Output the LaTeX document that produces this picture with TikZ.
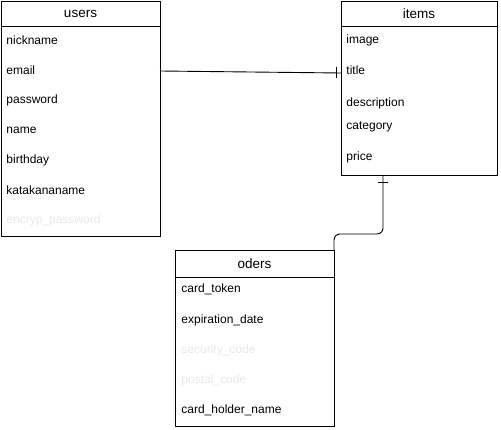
\documentclass[tikz,border=0pt]{standalone}
\usepackage{fontspec}
\setmainfont{Liberation Sans}
\usetikzlibrary{positioning}

\begin{document}
\begin{tikzpicture}[x=1pt,y=-1pt,line width=0.9pt,
		tbl/.style={draw,anchor=north west,inner sep=0pt},
		head/.style={font=\fontsize{13.5}{15}\selectfont},
		field/.style={anchor=west,inner sep=0pt,font=\fontsize{12}{14}\selectfont},
		faint/.style={field,text=black!9}]
		\useasboundingbox (0,0) rectangle (501,430);
		\node[tbl,minimum width=159pt,minimum height=235pt] (users) at (1,1) {};
		\node[tbl,minimum width=156pt,minimum height=174pt] (items) at (341,1) {};
		\node[tbl,minimum width=159pt,minimum height=176pt] (oders) at (175,250) {};
		\draw (1,26) -- (160,26);
		\draw (341,26) -- (497,26);
		\draw (175,277) -- (334,277);
		\node[head] (users-h) at (80.5,14) {users};
		\node[head] (items-h) at (419,14) {items};
		\node[head] (oders-h) at (254.5,264) {oders};
		\node[field] (nickname) at (6,40) {nickname};
		\node[field] (email) at (6,70) {email};
		\node[field] (password) at (6,100) {password};
		\node[field] (name) at (6,130) {name};
		\node[field] (birthday) at (6,160) {birthday};
		\node[field] (katakananame) at (6,190) {katakananame};
		\node[faint] (encryp) at (6,220) {encryp\_password};
		\node[field] (image) at (346,40) {image};
		\node[field] (title) at (346,70) {title};
		\node[field] (description) at (346,103) {description};
		\node[field] (category) at (346,127) {category};
		\node[field] (price) at (346,157) {price};
		\node[field] (token) at (181,289) {card\_token};
		\node[field] (expiration) at (181,320) {expiration\_date};
		\node[faint] (security) at (181,350) {security\_code};
		\node[faint] (postal) at (181,380) {postal\_code};
		\node[field] (holder) at (181,410) {card\_holder\_name};
		\coordinate (users-out) at (160,71);
		\coordinate (items-in) at (341,73);
		\coordinate (items-out) at (383,175);
		\coordinate (oders-in) at (334,250);
		\draw (users-out) -- (items-in);
		\draw (336,67) -- (336,78);
		\draw[rounded corners=6pt] (items-out) -- (383,234) -- (334,234) -- (oders-in);
		\draw (378,182) -- (388,182);
\end{tikzpicture}
\end{document}
